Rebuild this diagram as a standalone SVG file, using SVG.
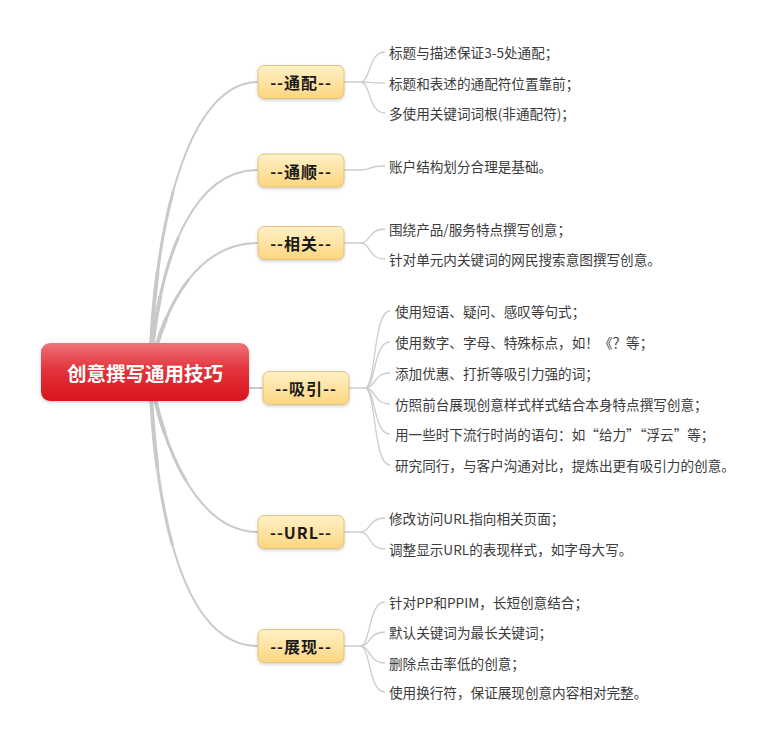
<svg xmlns="http://www.w3.org/2000/svg" width="783" height="742" viewBox="0 0 783 742">
<defs>
  <linearGradient id="rootG" x1="0" y1="0" x2="0" y2="1">
    <stop offset="0" stop-color="#ef727a"/>
    <stop offset="0.45" stop-color="#e3343c"/>
    <stop offset="1" stop-color="#d8141c"/>
  </linearGradient>
  <linearGradient id="boxG" x1="0" y1="0" x2="0" y2="1">
    <stop offset="0" stop-color="#fff1c6"/>
    <stop offset="1" stop-color="#fcd680"/>
  </linearGradient>
  <filter id="sh" x="-10%" y="-20%" width="120%" height="150%">
    <feDropShadow dx="0" dy="1.5" stdDeviation="1.5" flood-color="#000" flood-opacity="0.18"/>
  </filter>
</defs>
<style>
  .main{fill:none;stroke:#c9c9c9;stroke-linecap:round}
  .w2{stroke-width:2}
  .w3{stroke-width:3;stroke-dasharray:55 100}
  .w4{stroke-width:4;stroke-dasharray:30 100}
  .leafc{fill:none;stroke:#cdcdcd;stroke-width:1.3}
  .box{fill:url(#boxG);stroke:#e2c27c;stroke-width:1}
  .bt{font-family:"Noto Sans CJK SC","Liberation Sans",sans-serif;font-size:16px;font-weight:bold;fill:#1a1a1a;text-anchor:middle;dominant-baseline:central;letter-spacing:1px}
  .lt{font-family:"Noto Sans CJK SC","Liberation Sans",sans-serif;font-size:13.6px;fill:#3b3b3b;dominant-baseline:central}
  .rt{font-family:"Noto Sans CJK SC","Liberation Sans",sans-serif;font-size:19.5px;font-weight:bold;fill:#ffffff;text-anchor:middle;dominant-baseline:central}
</style>
<rect width="783" height="742" fill="#ffffff"/>

<g id="connectors">
  <g id="main-connectors">
    <path class="main w2" d="M150,372 C155,200 195,82 258,82"/>
    <path class="main w3" pathLength="100" d="M150,372 C155,200 195,82 258,82"/>
    <path class="main w4" pathLength="100" d="M150,372 C155,200 195,82 258,82"/>
    <path class="main w2" d="M150,372 C160,240 200,170 258,170"/>
    <path class="main w3" pathLength="100" d="M150,372 C160,240 200,170 258,170"/>
    <path class="main w4" pathLength="100" d="M150,372 C160,240 200,170 258,170"/>
    <path class="main w2" d="M150,372 C165,300 200,243 258,243"/>
    <path class="main w3" pathLength="100" d="M150,372 C165,300 200,243 258,243"/>
    <path class="main w4" pathLength="100" d="M150,372 C165,300 200,243 258,243"/>
    <path class="main w2" d="M240,388 L263,388"/>
    <path class="main w2" d="M150,372 C160,440 195,532 258,532"/>
    <path class="main w3" pathLength="100" d="M150,372 C160,440 195,532 258,532"/>
    <path class="main w4" pathLength="100" d="M150,372 C160,440 195,532 258,532"/>
    <path class="main w2" d="M150,372 C155,520 185,646 258,646"/>
    <path class="main w3" pathLength="100" d="M150,372 C155,520 185,646 258,646"/>
    <path class="main w4" pathLength="100" d="M150,372 C155,520 185,646 258,646"/>
  </g>
  <g id="leaf-connectors">
    <path class="leafc" d="M344,82 H360 M360,82 C371,82 368,52 385,52 M360,82 C371,82 368,83 385,83 M360,82 C371,82 368,113 385,113"/>
    <path class="leafc" d="M344,170 H360 C371,170 368,166 385,166"/>
    <path class="leafc" d="M344,243 H360 M360,243 C371,243 368,229 385,229 M360,243 C371,243 368,259 385,259"/>
    <path class="leafc" d="M349,388 H365 M365,388 C376,388 373,311 390,311 M365,388 C376,388 373,342 390,342 M365,388 C376,388 373,373 390,373 M365,388 C376,388 373,404 390,404 M365,388 C376,388 373,434 390,434 M365,388 C376,388 373,465 390,465"/>
    <path class="leafc" d="M344,532 H360 M360,532 C371,532 368,518 385,518 M360,532 C371,532 368,549 385,549"/>
    <path class="leafc" d="M344,646 H360 M360,646 C371,646 368,602 385,602 M360,646 C371,646 368,632 385,632 M360,646 C371,646 368,663 385,663 M360,646 C371,646 368,692 385,692"/>
  </g>
</g>

<g id="root">
  <rect x="41" y="343" width="208" height="58" rx="9" fill="url(#rootG)" filter="url(#sh)"/>
  <text class="rt" x="145" y="372">创意撰写通用技巧</text>
</g>

<g id="branch-tongpei">
  <rect class="box" x="258" y="65.5" width="86" height="33" rx="6" filter="url(#sh)"/>
  <text class="bt" x="301" y="82">--通配--</text>
</g>
<g id="branch-tongshun">
  <rect class="box" x="258" y="154" width="86" height="33" rx="6" filter="url(#sh)"/>
  <text class="bt" x="301" y="170.5">--通顺--</text>
</g>
<g id="branch-xiangguan">
  <rect class="box" x="258" y="226.5" width="86" height="33" rx="6" filter="url(#sh)"/>
  <text class="bt" x="301" y="243">--相关--</text>
</g>
<g id="branch-xiyin">
  <rect class="box" x="263" y="371.5" width="86" height="33" rx="6" filter="url(#sh)"/>
  <text class="bt" x="306" y="388">--吸引--</text>
</g>
<g id="branch-url">
  <rect class="box" x="258" y="515.5" width="86" height="33" rx="6" filter="url(#sh)"/>
  <text class="bt" x="301" y="532">--URL--</text>
</g>
<g id="branch-zhanxian">
  <rect class="box" x="258" y="629.5" width="86" height="33" rx="6" filter="url(#sh)"/>
  <text class="bt" x="301" y="646">--展现--</text>
</g>

<g id="leaves-tongpei">
  <text class="lt" x="389" y="52">标题与描述保证3-5处通配；</text>
  <text class="lt" x="389" y="83">标题和表述的通配符位置靠前；</text>
  <text class="lt" x="389" y="113">多使用关键词词根(非通配符)；</text>
</g>
<g id="leaves-tongshun">
  <text class="lt" x="389" y="166">账户结构划分合理是基础。</text>
</g>
<g id="leaves-xiangguan">
  <text class="lt" x="389" y="229">围绕产品/服务特点撰写创意；</text>
  <text class="lt" x="389" y="259">针对单元内关键词的网民搜索意图撰写创意。</text>
</g>
<g id="leaves-xiyin">
  <text class="lt" x="395" y="311">使用短语、疑问、感叹等句式；</text>
  <text class="lt" x="395" y="342">使用数字、字母、特殊标点，如！《？等；</text>
  <text class="lt" x="395" y="373">添加优惠、打折等吸引力强的词；</text>
  <text class="lt" x="395" y="404">仿照前台展现创意样式样式结合本身特点撰写创意；</text>
  <text class="lt" x="395" y="434">用一些时下流行时尚的语句：如“给力”“浮云”等；</text>
  <text class="lt" x="395" y="465">研究同行，与客户沟通对比，提炼出更有吸引力的创意。</text>
</g>
<g id="leaves-url">
  <text class="lt" x="389" y="518">修改访问URL指向相关页面；</text>
  <text class="lt" x="389" y="549">调整显示URL的表现样式，如字母大写。</text>
</g>
<g id="leaves-zhanxian">
  <text class="lt" x="389" y="602">针对PP和PPIM，长短创意结合；</text>
  <text class="lt" x="389" y="632">默认关键词为最长关键词；</text>
  <text class="lt" x="389" y="663">删除点击率低的创意；</text>
  <text class="lt" x="389" y="692">使用换行符，保证展现创意内容相对完整。</text>
</g>
</svg>
